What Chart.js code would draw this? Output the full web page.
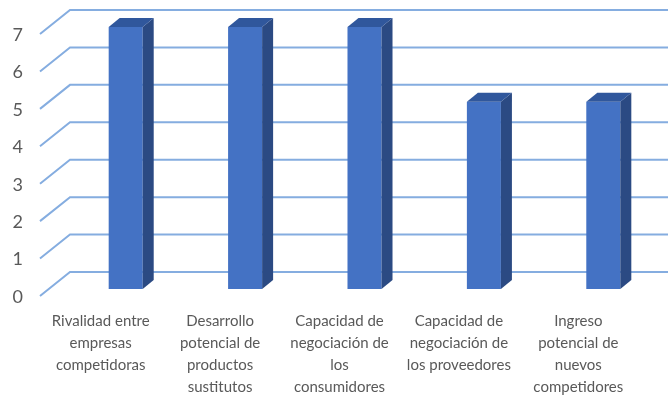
<!DOCTYPE html>
<html>
  <head>
    <meta charset="utf-8">
    <title>Fuerzas competitivas</title>
    <script src="https://cdn.jsdelivr.net/npm/chart.js"></script>
    <style>
      body { margin: 0; background: #fff; }
      #wrap { width: 670px; height: 396px; }
    </style>
  </head>
  <body>
    <div id="wrap"><canvas id="forcesChart"></canvas></div>

    <script>
      const categories = [
        ["Rivalidad entre", "empresas", "competidoras"],
        ["Desarrollo", "potencial de", "productos", "sustitutos"],
        ["Capacidad de", "negociación de", "los", "consumidores"],
        ["Capacidad de", "negociación de", "los proveedores"],
        ["Ingreso", "potencial de", "nuevos", "competidores"],
      ];
      const values = [7, 7, 7, 5, 5];
      const yTicks = [0, 1, 2, 3, 4, 5, 6, 7];

      // 3D look: floor/wall gridlines behind, side and top faces of bars in front
      const depthPlugin = {
        id: "depth",
        beforeDatasetsDraw(chart) {
          const ctx = chart.ctx;
          const y = chart.scales.y;
          const area = chart.chartArea;
          ctx.save();
          ctx.strokeStyle = "#85ade0";
          ctx.lineWidth = 2;
          yTicks.forEach((v) => {
            const py = y.getPixelForValue(v);
            ctx.beginPath();
            ctx.moveTo(40, py + 7);
            ctx.lineTo(70, py - 17);
            ctx.lineTo(area.right + 5, py - 17);
            ctx.stroke();
          });
          ctx.restore();
        },
        afterDatasetsDraw(chart) {
          const ctx = chart.ctx;
          const dx = 11, dy = 9;
          ctx.save();
          chart.getDatasetMeta(0).data.forEach((bar) => {
            const l = bar.x - bar.width / 2;
            const r = bar.x + bar.width / 2;
            ctx.fillStyle = "#2b4a83";
            ctx.beginPath();
            ctx.moveTo(r, bar.y);
            ctx.lineTo(r + dx, bar.y - dy);
            ctx.lineTo(r + dx, bar.base - dy);
            ctx.lineTo(r, bar.base);
            ctx.closePath();
            ctx.fill();
            ctx.fillStyle = "#30579c";
            ctx.beginPath();
            ctx.moveTo(l, bar.y);
            ctx.lineTo(l + dx, bar.y - dy);
            ctx.lineTo(r + dx, bar.y - dy);
            ctx.lineTo(r, bar.y);
            ctx.closePath();
            ctx.fill();
          });
          ctx.restore();
        },
      };

      new Chart(document.getElementById("forcesChart"), {
        type: "bar",
        data: {
          labels: categories,
          datasets: [
            {
              data: values,
              backgroundColor: "#4472c4",
              barPercentage: 0.57,
              categoryPercentage: 0.5,
            },
          ],
        },
        options: {
          responsive: true,
          maintainAspectRatio: false,
          animation: false,
          layout: { padding: { top: 27, right: 7, left: 0, bottom: 0 } },
          plugins: {
            legend: { display: false },
            tooltip: { enabled: false },
          },
          scales: {
            x: {
              grid: { display: false, drawTicks: false },
              border: { display: false },
              afterFit(scale) {
                scale.height = 107;
                scale.paddingLeft = 0;
                scale.paddingRight = 0;
              },
              ticks: {
                color: "#595959",
                font: { family: "Lato", size: 15, lineHeight: 1.47 },
                padding: 21,
                labelOffset: -25,
                maxRotation: 0,
                autoSkip: false,
              },
            },
            y: {
              min: 0,
              max: 7,
              grid: { display: false, drawTicks: false },
              border: { display: false },
              afterFit(scale) {
                scale.width = 66;
                scale.paddingTop = 0;
                scale.paddingBottom = 0;
              },
              ticks: {
                stepSize: 1,
                color: "#595959",
                font: { family: "Lato", size: 18 },
                padding: 43,
                labelOffset: 8,
              },
            },
          },
        },
        plugins: [depthPlugin],
      });
    </script>
  </body>
</html>
